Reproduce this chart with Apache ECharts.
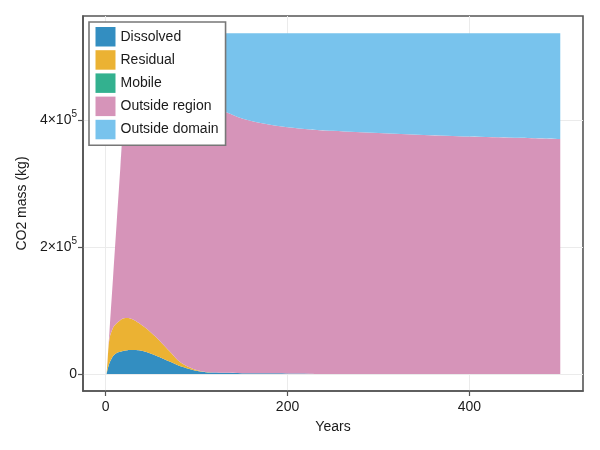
<!DOCTYPE html>
<html>
<head>
<meta charset="utf-8">
<script src="https://cdn.jsdelivr.net/npm/echarts@6/dist/echarts.min.js"></script>
<style>
  html, body { margin: 0; padding: 0; background: #fff; }
  #chart { width: 600px; height: 450px; }
</style>
</head>
<body>
<div id="chart"></div>
<script>
// ---- data (kg of CO2 per category over time) ----
const years = [1, 2, 4, 8, 12, 16, 20, 24, 26, 28, 32, 38, 44, 50, 56, 62, 68, 74, 80, 86, 92, 98, 104, 110, 120, 130, 150, 175, 200, 225, 235, 250, 275, 300, 350, 400, 450, 500];
const dissolved = [0, 7000, 17000, 28000, 33000, 35000, 36500, 37500, 37700, 37800, 37800, 37000, 35000, 32000, 28500, 25000, 21000, 17500, 13500, 10500, 7800, 5500, 3800, 2800, 2200, 1800, 1300, 1000, 800, 500, 0, 0, 0, 0, 0, 0, 0, 0];
const residual = [0, 13000, 38000, 45000, 47000, 50000, 51500, 51000, 50300, 49200, 46700, 42000, 37500, 33000, 28500, 23000, 18000, 12500, 7500, 4500, 2700, 1500, 1000, 400, 100, 0, 0, 0, 0, 0, 0, 0, 0, 0, 0, 0, 0, 0];
const mobile = [0, 0, 0, 0, 0, 0, 0, 0, 0, 0, 0, 0, 0, 0, 0, 0, 0, 0, 0, 0, 0, 0, 0, 0, 0, 0, 0, 0, 0, 0, 0, 0, 0, 0, 0, 0, 0, 0];
const outsideRegion = [0, 1600, 9800, 78000, 158000, 239000, 322000, 381500, 409000, 410000, 412500, 415000, 417500, 418000, 419000, 421000, 423000, 426000, 429000, 429000, 428500, 427000, 424200, 421800, 416700, 413200, 402200, 394000, 388700, 385500, 385000, 384000, 382000, 380500, 377500, 375000, 373000, 371000];
const outsideDomain = [0, 0, 0, 0, 0, 0, 0, 25000, 41000, 41000, 41000, 44000, 48000, 55000, 62000, 69000, 76000, 82000, 88000, 94000, 99000, 104000, 109000, 113000, 119000, 123000, 134500, 143000, 148500, 152000, 153000, 154000, 156000, 157500, 160500, 163000, 165000, 167000];

const seriesNames = ['Dissolved', 'Residual', 'Mobile', 'Outside region', 'Outside domain'];
const seriesValues = [dissolved, residual, mobile, outsideRegion, outsideDomain];
const seriesColors = ['#338ec1', '#ebb233', '#33b18f', '#d694b9', '#78c3ed'];

const xTickValues = [0, 200, 400];
const yTickValues = [0, 200000, 400000];
const yTickBase = ['0', '2×10', '4×10'];
const yTickExp = ['', '5', '5'];

const FONT = '"Liberation Sans", Arial, Helvetica, sans-serif';
const TXT = '#1a1a1a';

const chart = echarts.init(document.getElementById('chart'), null, { renderer: 'canvas' });

// value first, year second, so the stack is applied to the value (y) dimension
const series = seriesNames.map((name, i) => ({
  name: name,
  type: 'line',
  stack: 'co2',
  symbol: 'none',
  smooth: 0.3,
  data: years.map((y, j) => [seriesValues[i][j], y]),
  encode: { x: 1, y: 0 },
  lineStyle: { width: 0, color: seriesColors[i] },
  itemStyle: { color: seriesColors[i] },
  areaStyle: { color: seriesColors[i], opacity: 1 },
  emphasis: { disabled: true },
  silent: true
}));

chart.setOption({
  animation: false,
  textStyle: { fontFamily: FONT },
  grid: {
    left: 83, right: 17, top: 16, bottom: 59,
    show: true, borderColor: '#555', borderWidth: 1.6, backgroundColor: 'transparent'
  },
  legend: {
    orient: 'vertical',
    left: 89, top: 22,
    data: seriesNames,
    icon: 'rect',
    itemWidth: 20, itemHeight: 19.5, itemGap: 3.7,
    padding: [5, 7, 6, 6.5],
    backgroundColor: '#fff',
    borderColor: '#777', borderWidth: 1.6,
    textStyle: { fontFamily: FONT, fontSize: 14, color: TXT },
    selectedMode: false
  },
  xAxis: {
    type: 'value',
    min: -25, max: 525,
    name: 'Years',
    nameLocation: 'middle',
    nameGap: 29,
    nameTextStyle: { fontFamily: FONT, fontSize: 14, color: TXT },
    axisLine: { show: true, onZero: false, lineStyle: { color: '#555', width: 1.6 } },
    axisTick: { show: true, customValues: xTickValues, length: 5, lineStyle: { color: '#555', width: 1.2 } },
    axisLabel: { customValues: xTickValues, margin: 9, fontFamily: FONT, fontSize: 14, color: TXT },
    splitLine: { show: true, lineStyle: { color: '#ebebeb', width: 1 } }
  },
  yAxis: {
    type: 'value',
    min: -26900, max: 565200,
    name: 'CO2 mass (kg)',
    nameLocation: 'middle',
    nameGap: 48,
    nameTextStyle: { fontFamily: FONT, fontSize: 14, color: TXT },
    axisLine: { show: true, onZero: false, lineStyle: { color: '#555', width: 1.6 } },
    axisTick: { show: true, customValues: yTickValues, length: 5, lineStyle: { color: '#555', width: 1.2 } },
    axisLabel: {
      customValues: yTickValues,
      margin: 6,
      formatter: function (v) {
        const k = yTickValues.indexOf(v);
        if (k < 0) return '';
        return yTickExp[k] ? '{n|' + yTickBase[k] + '}{s|' + yTickExp[k] + '}' : '{n|' + yTickBase[k] + '}';
      },
      rich: {
        n: { fontFamily: FONT, fontSize: 14, color: TXT, lineHeight: 22 },
        s: { fontFamily: FONT, fontSize: 10, color: TXT, verticalAlign: 'top' }
      }
    },
    splitLine: { show: true, lineStyle: { color: '#ebebeb', width: 1 } }
  },
  series: series
});
</script>
</body>
</html>
